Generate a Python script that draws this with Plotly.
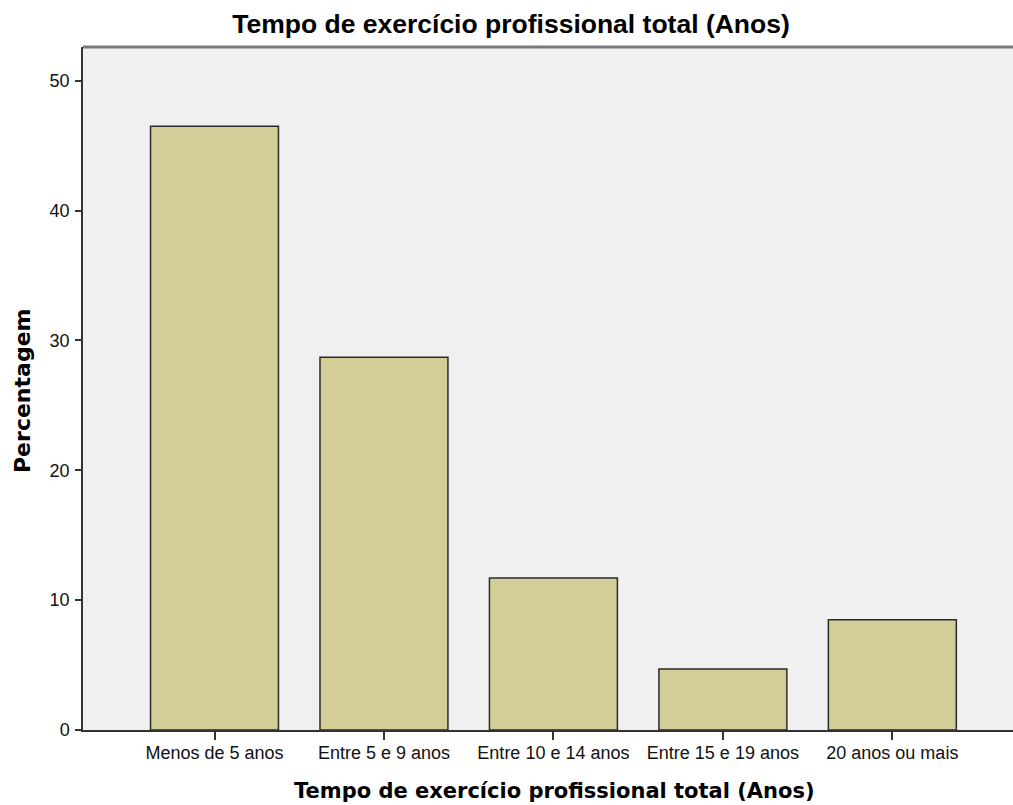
import plotly.graph_objects as go

categories = ["Menos de 5 anos", "Entre 5 e 9 anos", "Entre 10 e 14 anos",
              "Entre 15 e 19 anos", "20 anos ou mais"]
percentages = [46.5, 28.7, 11.7, 4.7, 8.5]
y_ticks = [0, 10, 20, 30, 40, 50]

W, H = 1013, 805
L, R, T, B = 83, 0, 47, 75

fig = go.Figure()
fig.add_trace(go.Bar(
    x=list(range(len(categories))),
    y=percentages,
    width=0.755,
    marker=dict(color="#D3CE97", line=dict(color="#2a2a2a", width=1.5)),
    hoverinfo="skip",
))

fig.update_layout(
    width=W, height=H,
    margin=dict(l=L, r=R, t=T, b=B, pad=0),
    paper_bgcolor="white",
    plot_bgcolor="#F0F0F0",
    showlegend=False,
    title=dict(
        text="Tempo de exercício profissional total (Anos)",
        font=dict(family="Liberation Sans", size=26.5, color="#000000", weight="bold"),
        x=511 / W, xanchor="center", xref="container",
        y=1 - 24 / H, yanchor="middle", yref="container",
    ),
    xaxis=dict(
        range=[-0.776, 4.712],
        tickmode="array",
        tickvals=list(range(len(categories))),
        ticktext=categories,
        ticks="outside", ticklen=8, tickwidth=1.5, tickcolor="#333",
        showline=True, linecolor="#333", linewidth=1.5,
        showgrid=False, zeroline=False,
        tickfont=dict(family="Liberation Sans", size=18, color="#111"),
        ticklabelstandoff=-2,
    ),
    yaxis=dict(
        range=[0, 52.6],
        tickmode="array",
        tickvals=y_ticks,
        ticks="outside", ticklen=6, tickwidth=1.5, tickcolor="#333",
        showline=True, linecolor="#333", linewidth=1.5,
        showgrid=False, zeroline=False,
        tickfont=dict(family="Liberation Sans", size=18, color="#111"),
        ticklabelstandoff=2,
    ),
    shapes=[dict(type="line", xref="paper", yref="paper", x0=0, x1=1, y0=1, y1=1,
                 line=dict(color="#7a7a7a", width=3))],
    annotations=[
        dict(text="Tempo de exercício profissional total (Anos)",
             xref="paper", yref="paper", x=(554 - L) / (W - L - R), y=-(791 - 730) / (H - T - B),
             xanchor="center", yanchor="middle", showarrow=False,
             font=dict(family="DejaVu Sans", size=21, color="#000", weight="bold")),
        dict(text="Percentagem", textangle=-90,
             xref="paper", yref="paper", x=-(83 - 22) / (W - L - R), y=(730 - 391) / (H - T - B),
             xanchor="center", yanchor="middle", showarrow=False,
             font=dict(family="DejaVu Sans", size=22, color="#000", weight="bold")),
    ],
)

fig.write_html("out.html", config={"displayModeBar": False},
               post_script="document.body.style.margin='0';document.body.style.padding='0';")
